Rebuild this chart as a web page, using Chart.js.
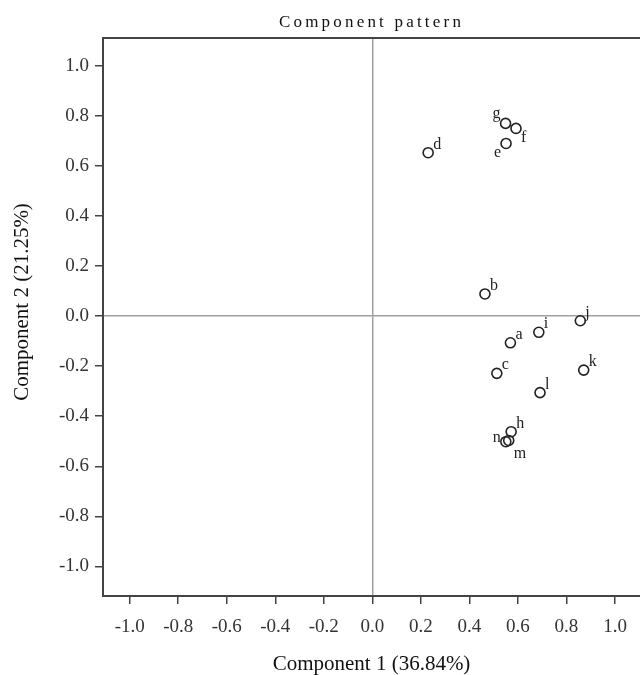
<!DOCTYPE html>
<html>
<head>
<meta charset="utf-8">
<script src="https://cdn.jsdelivr.net/npm/chart.js@4.4.1/dist/chart.umd.min.js"></script>
<style>
  html, body { margin: 0; padding: 0; background: #ffffff; }
  #wrap { width: 640px; height: 675px; position: relative; }
</style>
</head>
<body>
<div id="wrap"><canvas id="c" width="640" height="675"></canvas></div>
<script>
// ---- data ----
const pointLabels = ['a','b','c','d','e','f','g','h','i','j','k','l','m','n'];
const component1 = [0.569, 0.464, 0.513, 0.230, 0.551, 0.592, 0.549, 0.572, 0.686, 0.857, 0.871, 0.691, 0.562, 0.550];
const component2 = [-0.107, 0.088, -0.229, 0.652, 0.689, 0.749, 0.769, -0.462, -0.065, -0.019, -0.216, -0.306, -0.497, -0.502];
const labelPlacement = ['ur','ur','ur','ur','ll','r','ul','ur','ur','ur','ur','ur','br','l'];
const xTickValues = [-1.0, -0.8, -0.6, -0.4, -0.2, 0.0, 0.2, 0.4, 0.6, 0.8, 1.0];
const yTickValues = [-1.0, -0.8, -0.6, -0.4, -0.2, 0.0, 0.2, 0.4, 0.6, 0.8, 1.0];
const titleText = 'Component pattern';
const xTitle = 'Component 1 (36.84%)';
const yTitle = 'Component 2 (21.25%)';

const points = component1.map((x, i) => ({ x: x, y: component2[i] }));

const SERIF = '"Liberation Serif", "Times New Roman", serif';

const placementStyle = {
  ur: { dx: 5, dy: -4, align: 'left' },
  r:  { dx: 5, dy: 14, align: 'left' },
  br: { dx: 5, dy: 18, align: 'left' },
  ll: { dx: -5, dy: 14, align: 'right' },
  ul: { dx: -5, dy: -5, align: 'right' },
  l:  { dx: -5, dy: 0, align: 'right' }
};

const framePlugin = {
  id: 'frame',
  beforeDraw(chart) {
    const tb = chart.titleBlock;
    if (tb && !tb._spaced) {
      const orig = tb.draw.bind(tb);
      tb.draw = function (area) {
        const ctx = chart.ctx;
        const prev = ctx.letterSpacing;
        ctx.letterSpacing = '3.2px';
        orig(area);
        ctx.letterSpacing = prev || '0px';
      };
      tb._spaced = true;
    }
  },
  afterDatasetsDraw(chart) {
    const ctx = chart.ctx;
    const a = chart.chartArea;
    ctx.save();
    // top frame line
    ctx.strokeStyle = '#444';
    ctx.lineWidth = 2;
    ctx.beginPath();
    ctx.moveTo(a.left, a.top);
    ctx.lineTo(a.right, a.top);
    ctx.stroke();
    // point labels
    const meta = chart.getDatasetMeta(0);
    ctx.fillStyle = '#222';
    ctx.font = '16px ' + SERIF;
    ctx.textBaseline = 'alphabetic';
    meta.data.forEach((el, i) => {
      const p = placementStyle[labelPlacement[i]];
      ctx.textAlign = p.align;
      ctx.fillText(pointLabels[i], el.x + p.dx, el.y + p.dy);
    });
    // y axis title (sits a little above the plot's vertical centre)
    ctx.translate(22, (a.top + a.bottom) / 2 - 15);
    ctx.rotate(-Math.PI / 2);
    ctx.textAlign = 'center';
    ctx.textBaseline = 'middle';
    ctx.fillStyle = '#111';
    ctx.font = '21px ' + SERIF;
    ctx.fillText(yTitle, 0, 0);
    ctx.restore();
  }
};

new Chart(document.getElementById('c'), {
  type: 'scatter',
  data: {
    datasets: [{
      data: points,
      pointStyle: 'circle',
      pointRadius: 5,
      pointHoverRadius: 5,
      pointBorderWidth: 1.6,
      borderColor: '#222',
      backgroundColor: 'rgba(0,0,0,0)'
    }]
  },
  options: {
    responsive: false,
    animation: false,
    events: [],
    layout: { padding: 0, autoPadding: false },
    plugins: {
      legend: { display: false },
      tooltip: { enabled: false },
      title: {
        display: true,
        text: titleText,
        fullSize: false,
        color: '#111',
        font: { family: SERIF, size: 17, weight: 'normal', lineHeight: 1.2 },
        padding: { top: 12, bottom: 5.6 }
      }
    },
    scales: {
      x: {
        type: 'linear',
        position: 'bottom',
        min: -1.110,
        max: 1.103,
        afterBuildTicks: s => { s.ticks = xTickValues.map(v => ({ value: v })); },
        afterFit: s => { s.height = 79; s.paddingLeft = 0; s.paddingRight = 0; },
        ticks: {
          color: '#333',
          padding: 12,
          font: { family: SERIF, size: 19 },
          callback: v => Number(v).toFixed(1),
          maxRotation: 0,
          autoSkip: false
        },
        grid: {
          color: c => (c.tick && Math.abs(c.tick.value) < 1e-9) ? '#a0a0a0' : 'rgba(0,0,0,0)',
          lineWidth: 1.5,
          drawTicks: true,
          tickLength: 8,
          tickColor: '#444',
          tickWidth: 1.5
        },
        border: { display: true, color: '#444', width: 2 },
        title: {
          display: true,
          text: xTitle,
          color: '#111',
          font: { family: SERIF, size: 21, lineHeight: 1 },
          padding: { top: 0, bottom: 0 }
        }
      },
      y: {
        type: 'linear',
        position: 'left',
        min: -1.118,
        max: 1.110,
        afterBuildTicks: s => { s.ticks = yTickValues.map(v => ({ value: v })); },
        afterFit: s => { s.width = 103; s.paddingTop = 0; s.paddingBottom = 0; },
        ticks: {
          color: '#333',
          padding: 6,
          font: { family: SERIF, size: 19 },
          callback: v => Number(v).toFixed(1),
          autoSkip: false
        },
        grid: {
          color: c => (c.tick && Math.abs(c.tick.value) < 1e-9) ? '#a0a0a0' : 'rgba(0,0,0,0)',
          lineWidth: 1.5,
          drawTicks: true,
          tickLength: 8,
          tickColor: '#444',
          tickWidth: 1.5
        },
        border: { display: true, color: '#444', width: 2 },
        title: { display: false, text: yTitle }
      }
    }
  },
  plugins: [framePlugin]
});
</script>
</body>
</html>
